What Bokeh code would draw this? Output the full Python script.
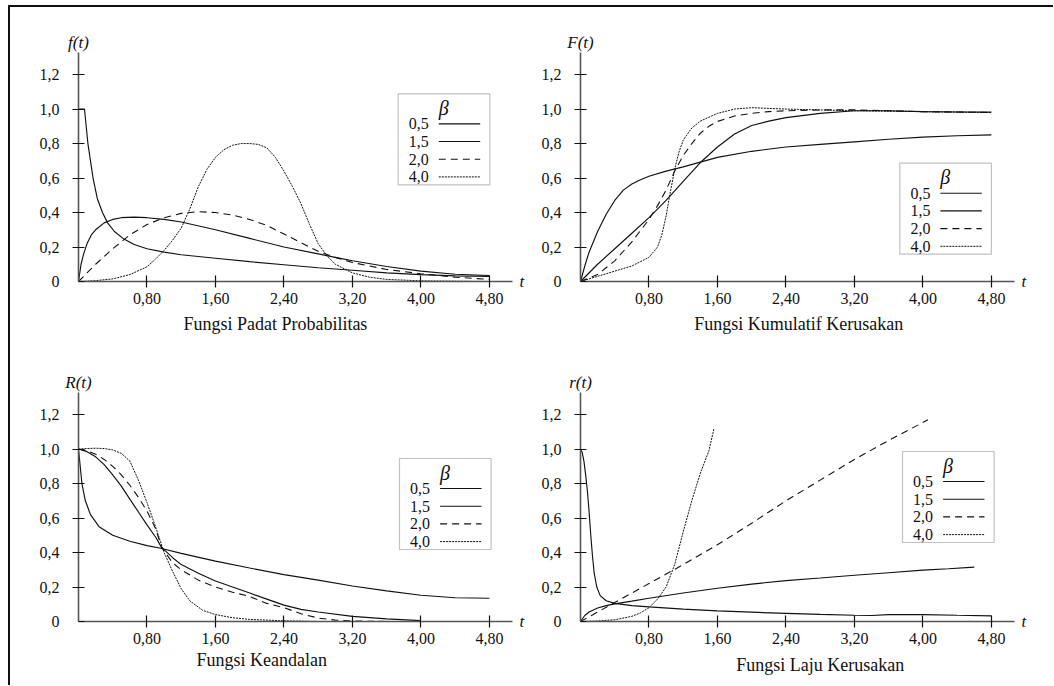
from bokeh.plotting import figure
from bokeh.layouts import column, row
from bokeh.models import (Label, BoxAnnotation, FixedTicker, CustomJSTickFormatter,
                          Range1d, LinearAxis)
from bokeh.embed import file_html
from bokeh.resources import INLINE

# ---------------- data ----------------
BETA_LABELS = ["0,5", "1,5", "2,0", "4,0"]
X_TICKS = [0.8, 1.6, 2.4, 3.2, 4.0, 4.8]
Y_TICKS = [0.0, 0.2, 0.4, 0.6, 0.8, 1.0, 1.2]

# f(t)  Fungsi Padat Probabilitas
f05_t = [0, 0.07, 0.09, 0.11, 0.14, 0.17, 0.22, 0.28, 0.34, 0.42, 0.52, 0.65, 0.8, 1.0, 1.2, 1.6, 2.0, 2.4, 2.8, 3.2, 3.6, 4.0, 4.4, 4.8]
f05_v = [1.0, 1.0, 0.9, 0.8, 0.7, 0.6, 0.48, 0.4, 0.34, 0.29, 0.25, 0.215, 0.19, 0.17, 0.155, 0.135, 0.115, 0.097, 0.08, 0.065, 0.05, 0.04, 0.033, 0.03]
f15_t = [0, 0.03, 0.06, 0.1, 0.15, 0.2, 0.3, 0.4, 0.5, 0.65, 0.8, 1.0, 1.2, 1.6, 2.0, 2.4, 2.8, 3.0, 3.2, 3.6, 4.0, 4.4, 4.8]
f15_v = [0, 0.1, 0.16, 0.22, 0.27, 0.3, 0.34, 0.36, 0.37, 0.373, 0.37, 0.36, 0.345, 0.3, 0.25, 0.2, 0.16, 0.14, 0.12, 0.087, 0.06, 0.042, 0.035]
f20_t = [0, 0.2, 0.4, 0.6, 0.8, 1.0, 1.2, 1.4, 1.6, 1.8, 2.0, 2.2, 2.4, 2.6, 2.8, 3.0, 3.2, 3.6, 4.0, 4.4, 4.8]
f20_v = [0, 0.1, 0.19, 0.27, 0.33, 0.37, 0.395, 0.405, 0.4, 0.385, 0.36, 0.325, 0.275, 0.225, 0.175, 0.14, 0.11, 0.07, 0.045, 0.025, 0.012]
f40_t = [0, 0.2, 0.4, 0.6, 0.8, 0.9, 1.0, 1.1, 1.2, 1.3, 1.4, 1.5, 1.6, 1.7, 1.8, 1.9, 2.0, 2.1, 2.2, 2.3, 2.4, 2.5, 2.6, 2.7, 2.8, 2.9, 3.0, 3.2, 3.4, 3.6, 4.0, 4.4, 4.8]
f40_v = [0, 0.005, 0.015, 0.04, 0.085, 0.13, 0.18, 0.24, 0.31, 0.42, 0.55, 0.65, 0.72, 0.765, 0.79, 0.8, 0.8, 0.795, 0.775, 0.72, 0.64, 0.55, 0.45, 0.33, 0.22, 0.15, 0.1, 0.05, 0.025, 0.012, 0.004, 0.002, 0.0]

# F(t)  Fungsi Kumulatif Kerusakan
F05_t = [0, 0.05, 0.1, 0.2, 0.3, 0.4, 0.5, 0.6, 0.7, 0.8, 1.0, 1.2, 1.6, 2.0, 2.4, 2.8, 3.2, 3.6, 4.0, 4.4, 4.8]
F05_v = [0, 0.09, 0.17, 0.29, 0.39, 0.47, 0.53, 0.565, 0.59, 0.61, 0.64, 0.665, 0.72, 0.755, 0.78, 0.795, 0.81, 0.825, 0.837, 0.845, 0.85]
F15_t = [0, 0.2, 0.4, 0.6, 0.8, 1.0, 1.2, 1.4, 1.6, 1.8, 2.0, 2.2, 2.4, 2.8, 3.2, 3.6, 4.0, 4.4, 4.8]
F15_v = [0, 0.1, 0.19, 0.28, 0.37, 0.47, 0.58, 0.69, 0.78, 0.855, 0.905, 0.93, 0.95, 0.975, 0.99, 0.99, 0.985, 0.983, 0.982]
F20_t = [0, 0.2, 0.4, 0.6, 0.8, 0.9, 1.0, 1.1, 1.2, 1.3, 1.4, 1.5, 1.6, 1.8, 2.0, 2.2, 2.4, 2.8, 3.2, 3.6, 4.0, 4.8]
F20_v = [0, 0.04, 0.12, 0.23, 0.36, 0.44, 0.53, 0.64, 0.73, 0.8, 0.86, 0.9, 0.928, 0.96, 0.975, 0.985, 0.99, 0.995, 0.995, 0.99, 0.985, 0.98]
F40_t = [0, 0.2, 0.4, 0.6, 0.8, 0.9, 0.95, 1.0, 1.05, 1.1, 1.15, 1.2, 1.3, 1.4, 1.6, 1.8, 2.0, 2.4, 2.8, 3.2, 4.0, 4.8]
F40_v = [0, 0.03, 0.06, 0.09, 0.14, 0.2, 0.27, 0.38, 0.52, 0.65, 0.75, 0.82, 0.89, 0.93, 0.975, 1.0, 1.008, 1.0, 0.995, 0.99, 0.985, 0.98]

# R(t)  Fungsi Keandalan
R05_t = [0, 0.02, 0.04, 0.08, 0.14, 0.24, 0.4, 0.6, 0.8, 0.96, 1.2, 1.6, 2.0, 2.4, 2.8, 3.2, 3.6, 4.0, 4.4, 4.8]
R05_v = [1.0, 0.9, 0.8, 0.7, 0.62, 0.55, 0.5, 0.465, 0.44, 0.425, 0.395, 0.35, 0.31, 0.272, 0.24, 0.206, 0.178, 0.152, 0.138, 0.135]
R15_t = [0, 0.1, 0.2, 0.3, 0.4, 0.5, 0.6, 0.7, 0.8, 0.9, 0.97, 1.1, 1.2, 1.4, 1.6, 1.8, 2.0, 2.2, 2.4, 2.6, 2.8, 3.2, 3.6, 4.0]
R15_v = [1.0, 0.985, 0.955, 0.91, 0.85, 0.785, 0.71, 0.635, 0.56, 0.49, 0.43, 0.37, 0.33, 0.28, 0.235, 0.2, 0.165, 0.13, 0.095, 0.07, 0.055, 0.03, 0.015, 0.005]
R20_t = [0, 0.1, 0.2, 0.3, 0.4, 0.5, 0.6, 0.7, 0.8, 0.9, 0.97, 1.1, 1.2, 1.4, 1.6, 1.8, 2.0, 2.2, 2.4, 2.6, 2.8, 3.0, 3.2, 3.6]
R20_v = [1.0, 0.99, 0.97, 0.94, 0.9, 0.85, 0.79, 0.72, 0.64, 0.54, 0.43, 0.34, 0.3, 0.24, 0.2, 0.17, 0.145, 0.105, 0.08, 0.045, 0.02, 0.008, 0.003, 0.0]
R40_t = [0, 0.1, 0.2, 0.3, 0.4, 0.5, 0.6, 0.7, 0.8, 0.9, 1.0, 1.1, 1.2, 1.3, 1.45, 1.6, 1.8, 2.0, 2.4, 2.8, 3.2]
R40_v = [1.0, 1.003, 1.005, 1.003, 0.995, 0.975, 0.93, 0.82, 0.69, 0.55, 0.4, 0.29, 0.19, 0.12, 0.065, 0.04, 0.022, 0.012, 0.004, 0.0, 0.0]

# r(t)  Fungsi Laju Kerusakan
r05_t = [0, 0.02, 0.04, 0.06, 0.08, 0.1, 0.12, 0.14, 0.16, 0.19, 0.23, 0.3, 0.4, 0.6, 0.8, 1.2, 1.6, 2.0, 2.4, 2.8, 3.2, 3.4, 3.6, 4.0, 4.4, 4.8]
r05_v = [1.0, 0.98, 0.93, 0.85, 0.76, 0.64, 0.5, 0.38, 0.28, 0.2, 0.15, 0.12, 0.105, 0.092, 0.085, 0.072, 0.062, 0.054, 0.047, 0.041, 0.036, 0.035, 0.04, 0.04, 0.036, 0.033]
r15_t = [0, 0.05, 0.1, 0.2, 0.3, 0.4, 0.6, 0.8, 1.2, 1.6, 2.0, 2.4, 2.8, 3.2, 3.6, 4.0, 4.3, 4.6]
r15_v = [0, 0.035, 0.055, 0.078, 0.092, 0.102, 0.118, 0.135, 0.165, 0.193, 0.217, 0.237, 0.252, 0.268, 0.283, 0.298, 0.306, 0.315]
r20_t = [0, 0.4, 0.8, 1.2, 1.6, 2.0, 2.4, 2.8, 3.2, 3.6, 4.06]
r20_v = [0, 0.11, 0.22, 0.33, 0.445, 0.57, 0.7, 0.82, 0.94, 1.05, 1.17]
r40_t = [0, 0.2, 0.4, 0.6, 0.7, 0.8, 0.9, 1.0, 1.1, 1.2, 1.3, 1.4, 1.5, 1.56]
r40_v = [0, 0.003, 0.01, 0.03, 0.05, 0.08, 0.13, 0.2, 0.33, 0.52, 0.7, 0.86, 0.99, 1.12]

# ---------------- styling / layout ----------------
FONT = "Liberation Serif"
INK = "#111111"
STYLES = [
    dict(line_dash="solid", line_width=1.15),
    dict(line_dash="solid", line_width=1.15),
    dict(line_dash="7 5", line_width=1.1),
    dict(line_dash="2 1", line_width=1.0),
]
X_END, Y_END = 5.07, 1.328
FW, FH = 434, 229
DX, DY = X_END / FW, Y_END / FH   # data units per pixel


def text_axis(text, ticks, standoff, size, italic=False):
    ax = LinearAxis(ticker=FixedTicker(ticks=ticks),
                    formatter=CustomJSTickFormatter(args=dict(s=text), code="return s;"))
    ax.axis_line_color = None
    ax.major_tick_line_color = None
    ax.minor_tick_line_color = None
    ax.major_tick_in = 0
    ax.major_tick_out = 0
    ax.major_label_standoff = standoff
    ax.major_label_text_font = FONT
    ax.major_label_text_font_size = size
    ax.major_label_text_color = INK
    if italic:
        ax.major_label_text_font_style = "italic"
    return ax


def panel(series, ylab, subtitle, sub_x, sub_standoff, leg_left, leg_top, mb):
    p = figure(frame_width=FW, frame_height=FH,
               x_range=Range1d(0, X_END), y_range=Range1d(0, Y_END),
               output_backend="svg", toolbar_location=None, title=None,
               min_border_left=mb[0], min_border_right=mb[1],
               min_border_top=mb[2], min_border_bottom=mb[3],
               background_fill_color="white", border_fill_color="white")
    p.xgrid.visible = False
    p.ygrid.visible = False
    p.outline_line_color = None

    for ax in (p.xaxis[0], p.yaxis[0]):
        ax.axis_line_color = "#555555"
        ax.axis_line_width = 1.6
        ax.major_tick_line_color = INK
        ax.major_tick_line_width = 1.2
        ax.minor_tick_line_color = INK
        ax.minor_tick_line_width = 1.2
        ax.major_label_text_font = FONT
        ax.major_label_text_font_size = "16px"
        ax.major_label_text_color = INK
    # x axis: ticks crossing the line
    p.xaxis.ticker = FixedTicker(ticks=X_TICKS)
    p.xaxis.major_tick_in = 6
    p.xaxis.major_tick_out = 6
    p.xaxis.minor_tick_line_color = None
    p.xaxis.major_label_standoff = 5
    p.xaxis.formatter = CustomJSTickFormatter(code="return tick.toFixed(2).replace('.', ',');")
    # y axis: inner half = major tick, outer half = minor tick (none at 0)
    p.yaxis.ticker = FixedTicker(ticks=Y_TICKS, minor_ticks=Y_TICKS[1:])
    p.yaxis.major_tick_in = 6
    p.yaxis.major_tick_out = 0
    p.yaxis.minor_tick_in = 0
    p.yaxis.minor_tick_out = 6
    p.yaxis.major_label_standoff = 13
    p.yaxis.formatter = CustomJSTickFormatter(
        code="return tick == 0 ? '0' : tick.toFixed(1).replace('.', ',');")

    for (ts, vs), st in zip(series, STYLES):
        p.line(ts, vs, line_color=INK, **st)

    # texts outside the frame, drawn as tick labels of extra axes
    p.add_layout(text_axis(ylab, [0], 1, "17px", italic=True), "above")
    p.add_layout(text_axis("t", [0], 7, "17px", italic=True), "right")
    p.add_layout(text_axis(subtitle, [sub_x], sub_standoff, "18px"), "below")

    # legend box (label on the left, line sample on the right)
    common = dict(text_font=FONT, text_color=INK)
    bw, bh = 91.6, 91
    p.add_layout(BoxAnnotation(left=leg_left * DX, right=(leg_left + bw) * DX,
                               top=leg_top * DY, bottom=(leg_top - bh) * DY,
                               fill_color="white", fill_alpha=1.0,
                               line_color="#333333", line_width=1.2, level="underlay"))
    p.add_layout(Label(x=(leg_left + 45.5) * DX, y=(leg_top - 14) * DY, text="β",
                       text_font_style="italic", text_font_size="20px",
                       text_align="center", text_baseline="middle", **common))
    for i, (lab, st) in enumerate(zip(BETA_LABELS, STYLES)):
        yy = (leg_top - (30 + 17.7 * i)) * DY
        p.add_layout(Label(x=(leg_left + 10.6) * DX, y=yy, text=lab, text_font_size="16px",
                           text_align="left", text_baseline="middle", **common))
        p.line([(leg_left + 40.6) * DX, (leg_left + 82) * DX], [yy, yy],
               line_color=INK, **st)
    return p


p1 = panel([(f05_t, f05_v), (f15_t, f15_v), (f20_t, f20_v), (f40_t, f40_v)],
           "f(t)", "Fungsi Padat Probabilitas", 2.3, 7, 319.7, 187.7, (68, 18, 45, 60))
p2 = panel([(F05_t, F05_v), (F15_t, F15_v), (F20_t, F20_v), (F40_t, F40_v)],
           "F(t)", "Fungsi Kumulatif Kerusakan", 2.55, 7, 319.3, 118.3, (50, 39, 45, 60))
p3 = panel([(R05_t, R05_v), (R15_t, R15_v), (R20_t, R20_v), (R40_t, R40_v)],
           "R(t)", "Fungsi Keandalan", 2.14, 3, 321, 163, (68, 18, 51, 64))
p4 = panel([(r05_t, r05_v), (r15_t, r15_v), (r20_t, r20_v), (r40_t, r40_v)],
           "r(t)", "Fungsi Laju Kerusakan", 2.80, 8, 322, 170, (50, 39, 51, 64))

layout = column(row(p1, p2), row(p3, p4),
                styles={"margin-left": "8px", "margin-top": "5px",
                        "border-left": "2px solid #111", "border-top": "2px solid #111"})

open("out.html", "w").write(file_html(layout, INLINE))
